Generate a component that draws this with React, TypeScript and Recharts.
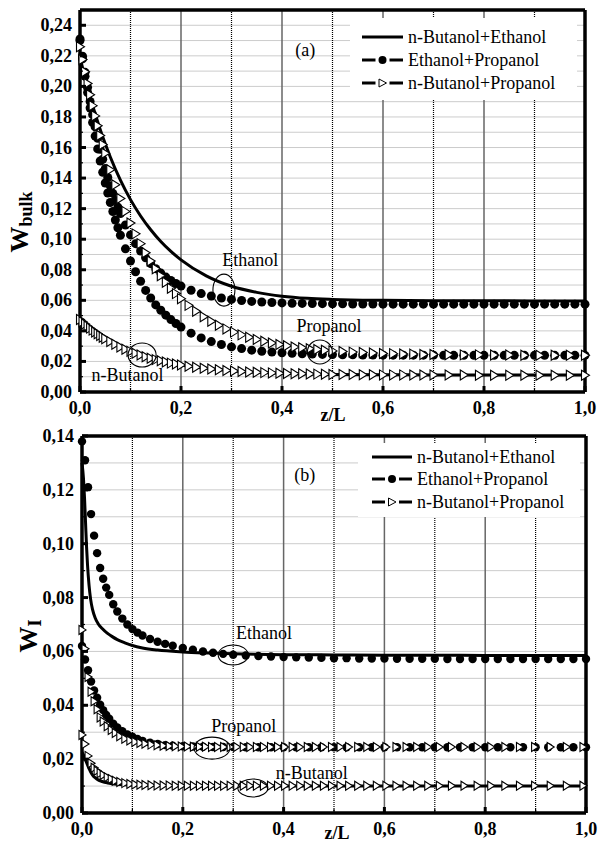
import React from 'react';
import { ComposedChart, Line, Scatter, XAxis, YAxis, CartesianGrid, ReferenceDot } from 'recharts';

const FONT = '"Liberation Serif", "Times New Roman", serif';
const SERIF = { fontFamily: FONT };
const SERIF_B = { fontFamily: FONT, fontWeight: 700 };

// ---------- axes ----------
const xTicks = [0, 0.1, 0.2, 0.3, 0.4, 0.5, 0.6, 0.7, 0.8, 0.9, 1.0];
const yTicksA = [0, 0.01, 0.02, 0.03, 0.04, 0.05, 0.06, 0.07, 0.08, 0.09, 0.1, 0.11, 0.12, 0.13, 0.14, 0.15, 0.16, 0.17, 0.18, 0.19, 0.2, 0.21, 0.22, 0.23, 0.24, 0.25];
const yTicksB = [0, 0.01, 0.02, 0.03, 0.04, 0.05, 0.06, 0.07, 0.08, 0.09, 0.1, 0.11, 0.12, 0.13, 0.14];

// ---------- panel (a): W bulk ----------
// n-Butanol+Ethanol (solid lines)
const zLineA = [0, 0.01, 0.02, 0.03, 0.04, 0.05, 0.06, 0.08, 0.1, 0.12, 0.14, 0.16, 0.18, 0.2, 0.25, 0.3, 0.35, 0.4, 0.45, 0.5, 0.6, 0.7, 0.8, 0.9, 1.0];
const ethLineA = [0.219, 0.2056, 0.1933, 0.1821, 0.1718, 0.1624, 0.1538, 0.1386, 0.1259, 0.1152, 0.1062, 0.0985, 0.092, 0.0865, 0.076, 0.0692, 0.0652, 0.0627, 0.0613, 0.0606, 0.06, 0.0598, 0.0597, 0.0596, 0.0596];
const nbLineA = [0.0475, 0.0445, 0.0418, 0.0393, 0.037, 0.0349, 0.033, 0.0295, 0.0266, 0.0242, 0.0221, 0.0204, 0.0189, 0.0177, 0.0155, 0.0139, 0.0129, 0.0123, 0.0118, 0.0115, 0.0113, 0.0112, 0.0111, 0.0111, 0.0111];

// Ethanol+Propanol (dots)
const zDotA = [0, 0.005, 0.01, 0.015, 0.02, 0.025, 0.03, 0.035, 0.04, 0.045, 0.05, 0.055, 0.06, 0.065, 0.07, 0.075, 0.08,
  0.09, 0.1, 0.11, 0.12, 0.13, 0.14, 0.15, 0.16, 0.17, 0.18, 0.19, 0.2,
  0.22, 0.24, 0.26, 0.28, 0.3, 0.32, 0.34, 0.36, 0.38, 0.4, 0.42, 0.44, 0.46, 0.48, 0.5, 0.52, 0.54, 0.56, 0.58, 0.6,
  0.62, 0.64, 0.66, 0.68, 0.7, 0.72, 0.74, 0.76, 0.78, 0.8, 0.82, 0.84, 0.86, 0.88, 0.9, 0.92, 0.94, 0.96, 0.98, 1.0];
const ethDotA = [0.231, 0.2197, 0.2092, 0.1994, 0.1901, 0.1815, 0.1735, 0.166, 0.1589, 0.1523, 0.1462, 0.1404, 0.135, 0.13, 0.1253, 0.1209, 0.1168,
  0.1093, 0.1028, 0.0971, 0.0922, 0.0878, 0.084, 0.0807, 0.0778, 0.0752, 0.073, 0.071, 0.0693,
  0.0666, 0.0644, 0.0628, 0.0615, 0.0606, 0.0599, 0.0593, 0.0589, 0.0586, 0.0583, 0.0581, 0.058, 0.0579, 0.0578, 0.0577, 0.0577, 0.0576, 0.0576, 0.0576, 0.0575,
  0.0575, 0.0575, 0.0575, 0.0575, 0.0575, 0.0575, 0.0575, 0.0575, 0.0575, 0.0575, 0.0575, 0.0575, 0.0575, 0.0575, 0.0575, 0.0575, 0.0575, 0.0575, 0.0575, 0.0575];
const propDotA = [0.23, 0.218, 0.2066, 0.196, 0.1859, 0.1764, 0.1675, 0.1591, 0.1512, 0.1438, 0.1368, 0.1302, 0.124, 0.1181, 0.1126, 0.1075, 0.1026,
  0.0937, 0.0857, 0.0787, 0.0725, 0.0665, 0.0615, 0.057, 0.0535, 0.0503, 0.0474, 0.0448, 0.0425,
  0.0385, 0.0354, 0.033, 0.0311, 0.0295, 0.0284, 0.0274, 0.0267, 0.0261, 0.0257, 0.0253, 0.025, 0.0248, 0.0246, 0.0245, 0.0244, 0.0243, 0.0242, 0.0242, 0.0241,
  0.0241, 0.0241, 0.0241, 0.0241, 0.0241, 0.024, 0.024, 0.024, 0.024, 0.024, 0.024, 0.024, 0.024, 0.024, 0.024, 0.024, 0.024, 0.024, 0.024, 0.024];

// n-Butanol+Propanol (open triangles)
const zTriA = [0, 0.005, 0.01, 0.015, 0.02, 0.025, 0.03, 0.035, 0.04, 0.045, 0.05,
  0.06, 0.07, 0.08, 0.09, 0.1, 0.11, 0.12, 0.13, 0.14, 0.15, 0.16, 0.17, 0.18, 0.19, 0.2,
  0.215, 0.23, 0.245, 0.26, 0.275, 0.29, 0.305, 0.32, 0.335, 0.35, 0.365, 0.38, 0.395, 0.41, 0.425, 0.44, 0.455, 0.47, 0.485, 0.5,
  0.52, 0.54, 0.56, 0.58, 0.6, 0.62, 0.64, 0.66, 0.68, 0.7,
  0.73, 0.76, 0.79, 0.82, 0.85, 0.88, 0.91, 0.94, 0.97, 1.0];
const propTriA = [0.226, 0.2176, 0.2096, 0.2019, 0.1945, 0.1874, 0.1807, 0.1742, 0.1679, 0.1619, 0.1562,
  0.1455, 0.1356, 0.1266, 0.1182, 0.1106, 0.1035, 0.0971, 0.0911, 0.0857, 0.0807, 0.0761, 0.0718, 0.0679, 0.0644, 0.0611,
  0.0567, 0.0528, 0.0493, 0.0463, 0.0437, 0.0413, 0.0392, 0.0374, 0.0358, 0.0344, 0.0332, 0.0321, 0.0311, 0.0303, 0.0295, 0.0289, 0.0283, 0.0278, 0.0273, 0.0269,
  0.0265, 0.0261, 0.0258, 0.0255, 0.0252, 0.0251, 0.0249, 0.0248, 0.0246, 0.0245,
  0.0244, 0.0243, 0.0243, 0.0242, 0.0242, 0.0241, 0.0241, 0.0241, 0.024, 0.024];
const nbTriA = [0.0475, 0.046, 0.0445, 0.0431, 0.0418, 0.0405, 0.0393, 0.0381, 0.037, 0.0359, 0.0349,
  0.033, 0.0312, 0.0295, 0.028, 0.0266, 0.0254, 0.0242, 0.0231, 0.0221, 0.0212, 0.0204, 0.0196, 0.0189, 0.0183, 0.0177,
  0.0169, 0.0162, 0.0156, 0.015, 0.0146, 0.0141, 0.0138, 0.0134, 0.0131, 0.0129, 0.0127, 0.0125, 0.0123, 0.0121, 0.012, 0.0119, 0.0118, 0.0117, 0.0116, 0.0115,
  0.0114, 0.0114, 0.0113, 0.0113, 0.0112, 0.0112, 0.0112, 0.0111, 0.0111, 0.0111,
  0.0111, 0.0111, 0.011, 0.011, 0.011, 0.011, 0.011, 0.011, 0.011, 0.011];

// ---------- panel (b): W I ----------
const zLineB = [0, 0.003, 0.005, 0.007, 0.009, 0.011, 0.014, 0.017, 0.021, 0.026, 0.032, 0.04, 0.05, 0.06, 0.07, 0.085, 0.1, 0.12, 0.15, 0.2, 0.25, 0.3, 0.4, 0.5, 0.6, 0.7, 0.8, 0.9, 1.0];
const ethLineB = [0.13, 0.124, 0.117, 0.108, 0.099, 0.092, 0.0845, 0.0795, 0.0755, 0.0725, 0.0703, 0.0685, 0.0668, 0.0655, 0.0644, 0.0632, 0.0622, 0.0613, 0.0605, 0.0598, 0.0594, 0.0591, 0.0588, 0.0587, 0.0586, 0.0586, 0.0585, 0.0585, 0.0585];
const nbLineB = [0.0225, 0.0215, 0.0205, 0.0197, 0.0188, 0.0178, 0.0165, 0.0153, 0.0141, 0.0131, 0.0123, 0.0117, 0.0112, 0.0109, 0.0107, 0.0105, 0.0104, 0.0103, 0.0102, 0.0101, 0.01, 0.01, 0.01, 0.01, 0.01, 0.01, 0.01, 0.01, 0.01];

const zDotB = [0, 0.006, 0.012, 0.018, 0.024, 0.03, 0.036, 0.042, 0.048, 0.054, 0.062, 0.07, 0.08, 0.09, 0.1, 0.11, 0.12, 0.135, 0.15, 0.165, 0.18, 0.2, 0.22, 0.24, 0.26, 0.28, 0.3,
  0.325, 0.35, 0.375, 0.4, 0.425, 0.45, 0.475, 0.5, 0.525, 0.55, 0.575, 0.6, 0.625, 0.65, 0.675, 0.7, 0.725, 0.75, 0.775, 0.8, 0.825, 0.85, 0.875, 0.9, 0.925, 0.95, 0.975, 1.0];
const ethDotB = [0.138, 0.131, 0.121, 0.111, 0.103, 0.0965, 0.091, 0.087, 0.0837, 0.081, 0.0775, 0.0748, 0.0722, 0.07, 0.0683, 0.067, 0.0659, 0.0646, 0.0636, 0.0628, 0.0621, 0.0613, 0.0606, 0.06, 0.0595, 0.0591, 0.0588,
  0.0585, 0.0583, 0.0581, 0.0579, 0.0578, 0.0577, 0.0576, 0.0575, 0.0575, 0.0574, 0.0574, 0.0574, 0.0573, 0.0573, 0.0573, 0.0573, 0.0572, 0.0572, 0.0572, 0.0572, 0.0572, 0.0572, 0.0572, 0.0572, 0.0572, 0.0572, 0.0572, 0.0572];
const propDotB = [0.062, 0.057, 0.053, 0.0488, 0.0455, 0.0428, 0.0402, 0.0382, 0.0364, 0.035, 0.0332, 0.0318, 0.0304, 0.0292, 0.0283, 0.0275, 0.0268, 0.0261, 0.0256, 0.0252, 0.025, 0.0248, 0.0247, 0.0246, 0.0245, 0.0245, 0.0245,
  0.0244, 0.0244, 0.0244, 0.0244, 0.0244, 0.0244, 0.0244, 0.0244, 0.0244, 0.0244, 0.0244, 0.0244, 0.0244, 0.0244, 0.0244, 0.0244, 0.0244, 0.0244, 0.0244, 0.0244, 0.0244, 0.0244, 0.0244, 0.0244, 0.0244, 0.0244, 0.0244, 0.0244];

const zTriB = [0, 0.006, 0.012, 0.018, 0.024, 0.03, 0.036, 0.042, 0.05, 0.058, 0.066, 0.075, 0.085, 0.095, 0.105, 0.115, 0.125,
  0.137, 0.149, 0.161, 0.173, 0.185, 0.197, 0.209, 0.221, 0.233, 0.245, 0.257, 0.269, 0.281, 0.294, 0.307, 0.32, 0.333, 0.346,
  0.36, 0.374, 0.388, 0.402, 0.417, 0.432, 0.447, 0.463, 0.479, 0.495, 0.512, 0.529, 0.547, 0.565, 0.584, 0.603, 0.623, 0.643,
  0.664, 0.686, 0.709, 0.733, 0.758, 0.784, 0.811, 0.839, 0.868, 0.898, 0.929, 0.961, 0.994];
const propTriB = [0.068, 0.061, 0.0505, 0.045, 0.0415, 0.0385, 0.0355, 0.034, 0.0322, 0.0308, 0.0297, 0.0285, 0.0276, 0.0269, 0.0264, 0.026, 0.0257,
  0.0254, 0.0252, 0.025, 0.0249, 0.0248, 0.0247, 0.0247, 0.0246, 0.0246, 0.0246, 0.0245, 0.0245, 0.0245, 0.0245, 0.0245, 0.0245, 0.0245, 0.0245,
  0.0245, 0.0245, 0.0245, 0.0245, 0.0245, 0.0245, 0.0245, 0.0245, 0.0245, 0.0245, 0.0245, 0.0245, 0.0245, 0.0245, 0.0245, 0.0245, 0.0245, 0.0245,
  0.0245, 0.0245, 0.0245, 0.0245, 0.0245, 0.0245, 0.0245, 0.0245, 0.0245, 0.0245, 0.0245, 0.0245, 0.0245];
const nbTriB = [0.029, 0.0256, 0.0212, 0.0185, 0.0168, 0.0157, 0.0148, 0.0141, 0.0133, 0.0126, 0.012, 0.0115, 0.0111, 0.0108, 0.0106, 0.0105, 0.0104,
  0.0103, 0.0102, 0.0102, 0.0102, 0.0101, 0.0101, 0.0101, 0.0101, 0.0101, 0.0101, 0.0101, 0.0101, 0.0101, 0.0101, 0.0101, 0.0101, 0.0101, 0.0101,
  0.0101, 0.0101, 0.0101, 0.0101, 0.0101, 0.0101, 0.0101, 0.0101, 0.0101, 0.0101, 0.0101, 0.0101, 0.0101, 0.0101, 0.0101, 0.0101, 0.0101, 0.0101,
  0.0101, 0.0101, 0.0101, 0.0101, 0.0101, 0.0101, 0.0101, 0.0101, 0.0101, 0.0101, 0.0101, 0.0101, 0.0101];

// ---------- legend + annotations ----------
const legendItems = [
  { name: 'n-Butanol+Ethanol', kind: 'line' },
  { name: 'Ethanol+Propanol', kind: 'dot' },
  { name: 'n-Butanol+Propanol', kind: 'tri' },
];

const notesA = [
  { text: 'Ethanol', z: 0.337, v: 0.0863 },
  { text: 'Propanol', z: 0.493, v: 0.0432 },
  { text: 'n-Butanol', z: 0.094, v: 0.0111 },
  { text: '(a)', z: 0.446, v: 0.2237 },
];
const ringsA = [
  { z: 0.285, v: 0.0667, rx: 11, ry: 16 },
  { z: 0.475, v: 0.0262, rx: 12.5, ry: 12 },
  { z: 0.123, v: 0.0242, rx: 14, ry: 12 },
];
const notesB = [
  { text: 'Ethanol', z: 0.361, v: 0.0668 },
  { text: 'Propanol', z: 0.321, v: 0.0323 },
  { text: 'n-Butanol', z: 0.456, v: 0.0149 },
  { text: '(b)', z: 0.442, v: 0.1255 },
];
const ringsB = [
  { z: 0.3, v: 0.0587, rx: 15, ry: 10 },
  { z: 0.258, v: 0.0241, rx: 18, ry: 11 },
  { z: 0.339, v: 0.0093, rx: 15, ry: 9 },
];

const toPts = (z: number[], v: number[]) => z.map((zz, i) => ({ z: zz, v: v[i] }));
const fmt = (v: number, d: number) => v.toFixed(d).replace('.', ',');
const yMajor = (v: number) => Math.round(v * 100) % 2 === 0;
const xMajor = (v: number) => Math.round(v * 10) % 2 === 0;

// ---------- tick renderers (inward ticks) ----------
const LeftTick = (p: any) => {
  const { x, y, payload } = p;
  const major = yMajor(payload.value);
  const ax = x + 8;
  return (
    <g>
      <line x1={ax} x2={ax + (major ? 6 : 3)} y1={y} y2={y} stroke="#000" strokeWidth={major ? 3 : 1.2} />
      {major && (
        <text x={x} y={y} dy={6} textAnchor="end" fontSize={18} fill="#000" style={SERIF_B}>
          {fmt(payload.value, 2)}
        </text>
      )}
    </g>
  );
};
const RightTick = (p: any) => {
  const { x, y, payload } = p;
  const major = yMajor(payload.value);
  return <line x1={x - (major ? 6 : 3)} x2={x} y1={y} y2={y} stroke="#000" strokeWidth={major ? 3 : 1.2} />;
};
const BottomTick = (p: any) => {
  const { x, y, payload } = p;
  const major = xMajor(payload.value);
  return (
    <g>
      <line x1={x} x2={x} y1={y - (major ? 6 : 4)} y2={y} stroke="#000" strokeWidth={major ? 3 : 1.2} />
      {major && (
        <text x={x} y={y + 22} textAnchor="middle" fontSize={18} fill="#000" style={SERIF_B}>
          {fmt(payload.value, 1)}
        </text>
      )}
    </g>
  );
};
const TopTick = (p: any) => {
  const { x, y, payload } = p;
  const major = xMajor(payload.value);
  return <line x1={x} x2={x} y1={y} y2={y + (major ? 6 : 4)} stroke="#000" strokeWidth={major ? 3 : 1.2} />;
};
const VGrid = (g: any) => {
  const odd = g.index % 2 === 1;
  return (
    <line key={g.key} x1={g.x1} y1={g.y1} x2={g.x2} y2={g.y2}
      stroke={odd ? '#000' : '#666'} strokeWidth={odd ? 1.2 : 1.5} strokeDasharray={odd ? '1 1' : undefined} />
  );
};

function Panel(cfg: any) {
  const frame = { stroke: '#000', strokeWidth: 3.5 };
  const dotShape = (sp: any) => <circle cx={sp.cx} cy={sp.cy} r={cfg.dotR} fill="#000" />;
  const t = cfg.tri;
  const triShape = (sp: any) => (
    <polygon
      points={`${sp.cx - t.l},${sp.cy - t.h} ${sp.cx + t.r},${sp.cy} ${sp.cx - t.l},${sp.cy + t.h}`}
      fill="#fff" stroke="#000" strokeWidth={1.1}
    />
  );
  return (
    <ComposedChart width={599} height={cfg.height} margin={{ top: 0, right: 0, bottom: 0, left: 10 }}>
      <CartesianGrid vertical={VGrid} horizontal={{ stroke: '#000', strokeWidth: 1 }} />
      <XAxis dataKey="z" type="number" domain={[0, 1]} ticks={xTicks} interval={0} height={cfg.bottomH}
        tickSize={0} tickMargin={0} tickLine={false} tick={BottomTick} axisLine={frame} />
      <XAxis xAxisId="top" orientation="top" dataKey="z" type="number" domain={[0, 1]} ticks={xTicks} interval={0}
        height={cfg.topH} tickSize={0} tickMargin={0} tickLine={false} tick={TopTick} axisLine={frame} />
      <YAxis dataKey="v" type="number" domain={[0, cfg.yMax]} ticks={cfg.yTicks} interval={0} width={cfg.leftW}
        tickSize={0} tickMargin={8} tickLine={false} tick={LeftTick} axisLine={frame} />
      <YAxis yAxisId="right" orientation="right" type="number" domain={[0, cfg.yMax]} ticks={cfg.yTicks} interval={0}
        width={cfg.rightW} tickSize={0} tickMargin={0} tickLine={false} tick={RightTick} axisLine={frame} />
      {cfg.lines.map((s: any, i: number) => (
        <Line key={'l' + i} data={s} dataKey="v" type="monotone" stroke="#000" strokeWidth={3}
          dot={false} activeDot={false} isAnimationActive={false} />
      ))}
      {cfg.dots.map((s: any, i: number) => (
        <Scatter key={'d' + i} data={s} shape={dotShape} isAnimationActive={false} />
      ))}
      {cfg.tris.map((s: any, i: number) => (
        <Scatter key={'t' + i} data={s} shape={triShape} isAnimationActive={false} />
      ))}
      {cfg.rings.map((r: any, i: number) => (
        <ReferenceDot key={'r' + i} x={r.z} y={r.v} r={1}
          shape={(sp: any) => <ellipse cx={sp.cx} cy={sp.cy} rx={r.rx} ry={r.ry} fill="none" stroke="#000" strokeWidth={1.1} />} />
      ))}
      {cfg.notes.map((n: any, i: number) => (
        <ReferenceDot key={'n' + i} x={n.z} y={n.v} r={1}
          shape={(sp: any) => (
            <text x={sp.cx} y={sp.cy} dy={6} textAnchor="middle" fontSize={18} fill="#000" style={SERIF}>{n.text}</text>
          )} />
      ))}
    </ComposedChart>
  );
}

function LegendBox(p: any) {
  const mid = (p.x0 + p.x1) / 2;
  return (
    <div style={{ position: 'absolute', left: p.left, top: p.top, width: p.width, height: p.height, background: '#fff' }}>
      <svg width={p.width} height={p.height} style={{ display: 'block' }}>
        {legendItems.map((s, i) => {
          const y = p.rows[i];
          return (
            <g key={s.name}>
              {s.kind === 'line' ? (
                <line x1={p.x0} x2={p.x1} y1={y} y2={y} stroke="#000" strokeWidth={3} />
              ) : (
                <g>
                  <line x1={p.x0} x2={mid - 7} y1={y} y2={y} stroke="#000" strokeWidth={3} />
                  <line x1={mid + 7} x2={p.x1} y1={y} y2={y} stroke="#000" strokeWidth={3} />
                  {s.kind === 'dot' ? (
                    <circle cx={mid} cy={y} r={4} fill="#000" />
                  ) : (
                    <polygon points={`${mid - 3.5},${y - 4} ${mid + 4},${y} ${mid - 3.5},${y + 4}`} fill="#fff" stroke="#000" strokeWidth={1} />
                  )}
                </g>
              )}
              <text x={p.tx} y={y} dy={6} fontSize={18} fill="#000" style={SERIF}>{s.name}</text>
            </g>
          );
        })}
      </svg>
    </div>
  );
}

export default function App() {
  const panelA = {
    height: 420, topH: 10, bottomH: 28, leftW: 70, rightW: 14, yMax: 0.25, yTicks: yTicksA,
    lines: [toPts(zLineA, ethLineA), toPts(zLineA, nbLineA)],
    dots: [toPts(zDotA, ethDotA), toPts(zDotA, propDotA)],
    tris: [toPts(zTriA, propTriA), toPts(zTriA, nbTriA)],
    dotR: 4.5, tri: { l: 3.5, r: 4.5, h: 5 },
    notes: notesA, rings: ringsA,
  };
  const panelB = {
    height: 424, topH: 16, bottomH: 31, leftW: 72, rightW: 13, yMax: 0.14, yTicks: yTicksB,
    lines: [toPts(zLineB, ethLineB), toPts(zLineB, nbLineB)],
    dots: [toPts(zDotB, ethDotB), toPts(zDotB, propDotB)],
    tris: [toPts(zTriB, propTriB), toPts(zTriB, nbTriB)],
    dotR: 4.2, tri: { l: 3, r: 4, h: 4.5 },
    notes: notesB, rings: ringsB,
  };
  return (
    <div style={{ position: 'absolute', left: 0, top: 0, width: 599, height: 844, background: '#fff', fontFamily: FONT }}>
      <div style={{ position: 'absolute', left: 0, top: 0 }}>
        <Panel {...panelA} />
      </div>
      <div style={{ position: 'absolute', left: 0, top: 420 }}>
        <Panel {...panelB} />
      </div>
      <LegendBox left={350} top={18} width={227} height={82} rows={[19, 42, 65]} x0={12} x1={53} tx={58} />
      <LegendBox left={358} top={443} width={222} height={74} rows={[14, 36, 59]} x0={14} x1={54} tx={59} />
      <svg width={599} height={844} style={{ position: 'absolute', left: 0, top: 0, pointerEvents: 'none' }}>
        <text transform="rotate(-90 28 222)" x={28} y={222} textAnchor="middle" fill="#000" style={SERIF_B}>
          <tspan fontSize={26}>W</tspan>
          <tspan fontSize={18} dy={4}>bulk</tspan>
        </text>
        <text transform="rotate(-90 37 636)" x={37} y={636} textAnchor="middle" fill="#000" style={SERIF_B}>
          <tspan fontSize={26}>W</tspan>
          <tspan fontSize={18} dy={4}>I</tspan>
        </text>
        <text x={333} y={421} textAnchor="middle" fontSize={18} fill="#000" style={SERIF_B}>z/L</text>
        <text x={337} y={839} textAnchor="middle" fontSize={18} fill="#000" style={SERIF_B}>z/L</text>
      </svg>
    </div>
  );
}
